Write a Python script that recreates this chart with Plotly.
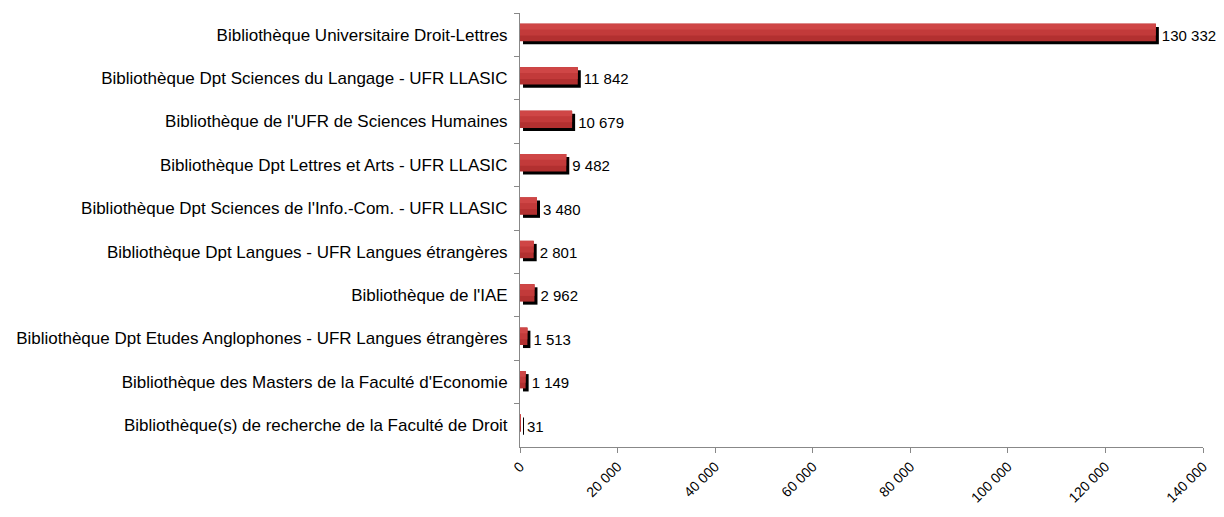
import plotly.graph_objects as go

# Données
bibliotheques = [
    "Bibliothèque Universitaire Droit-Lettres",
    "Bibliothèque Dpt Sciences du Langage - UFR LLASIC",
    "Bibliothèque de l'UFR de Sciences Humaines",
    "Bibliothèque Dpt Lettres et Arts - UFR LLASIC",
    "Bibliothèque Dpt Sciences de l'Info.-Com. - UFR LLASIC",
    "Bibliothèque Dpt Langues - UFR Langues étrangères",
    "Bibliothèque de l'IAE",
    "Bibliothèque Dpt Etudes Anglophones - UFR Langues étrangères",
    "Bibliothèque des Masters de la Faculté d'Economie",
    "Bibliothèque(s) de recherche de la Faculté de Droit",
]
volumes = [130332, 11842, 10679, 9482, 3480, 2801, 2962, 1513, 1149, 31]
x_ticks = [0, 20000, 40000, 60000, 80000, 100000, 120000, 140000]

FONT = "Liberation Sans, Arial, sans-serif"
shadow_shift = 620  # décalage horizontal de l'ombre (unités de l'axe)

fig = go.Figure()

# ombre noire des barres
fig.add_trace(go.Bar(
    y=bibliotheques, x=volumes, base=shadow_shift, orientation="h",
    width=0.4, offset=-0.18,
    marker=dict(color="#000000", line=dict(width=0)),
    text=volumes, texttemplate="%{x:,.0f}", textposition="outside",
    textfont=dict(family=FONT, size=15, color="#000000"),
    cliponaxis=False, hoverinfo="skip",
))

# barres rouges (dégradé approximé par bandes)
for w, col in [(0.4, "#b23030"), (0.27, "#c23a3a"), (0.13, "#cf4646")]:
    fig.add_trace(go.Bar(
        y=bibliotheques, x=volumes, orientation="h",
        width=w, offset=-0.25,
        marker=dict(color=col, line=dict(width=0)),
        hoverinfo="skip",
    ))

fig.update_layout(
    barmode="overlay",
    showlegend=False,
    separators=", ",
    width=1208, height=501,
    margin=dict(l=512, r=13, t=5, b=62),
    plot_bgcolor="white", paper_bgcolor="white",
    font=dict(family=FONT, size=16, color="#000000"),
)
fig.update_xaxes(
    range=[0, 140000], tickvals=x_ticks, tickformat=",.0f",
    tickangle=-45, ticks="outside", ticklen=5, tickcolor="#888888",
    showline=True, linecolor="#888888", linewidth=1,
    showgrid=False, zeroline=False, ticklabelstandoff=0,
    automargin=False,
    tickfont=dict(family=FONT, size=14, color="#000000"),
)
fig.update_yaxes(
    autorange="reversed", tickson="boundaries",
    ticks="outside", ticklen=5, tickcolor="#888888",
    showline=True, linecolor="#888888", linewidth=1,
    showgrid=False, ticklabelstandoff=8, automargin=False,
    tickfont=dict(family=FONT, size=17, color="#000000"),
)

fig.write_html("out.html")
